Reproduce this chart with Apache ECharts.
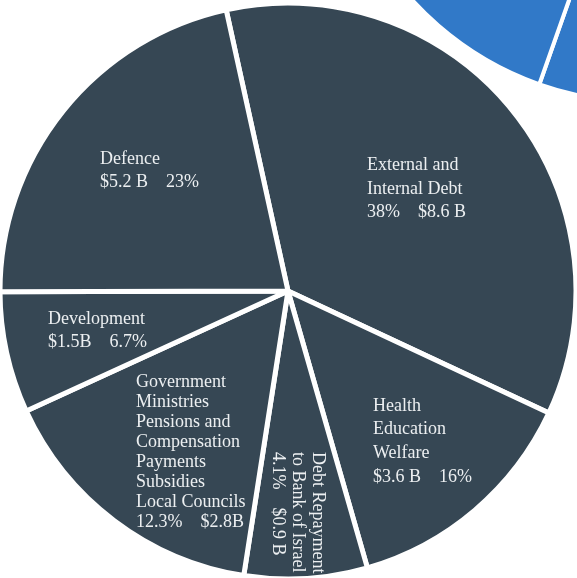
<!DOCTYPE html>
<html><head><meta charset="utf-8">
<script src="https://cdn.jsdelivr.net/npm/echarts@6/dist/echarts.min.js"></script>
<style>html,body{margin:0;padding:0;background:#fff}#c{width:577px;height:578px}</style>
</head><body><div id="c"></div>
<script>
// Main (expenditure) pie, clockwise from the top
const categories = ['External and Internal Debt','Health Education Welfare','Debt Repayment to Bank of Israel','Government Ministries Pensions and Compensation Payments Subsidies Local Councils','Development','Defence'];
const sliceValues = [35.4, 13.6, 6.9, 15.7, 6.8, 21.6];
const labelTexts = [
  'External and\nInternal Debt\n38%    $8.6 B',
  'Health\nEducation\nWelfare\n$3.6 B    16%',
  'Debt Repayment\nto Bank of Israel\n4.1%    $0.9 B',
  'Government\nMinistries\nPensions and\nCompensation\nPayments\nSubsidies\nLocal Councils\n12.3%    $2.8B',
  'Development\n$1.5B    6.7%',
  'Defence\n$5.2 B    23%'
];
// Second (partly visible) pie
const outerCategories = ['Part A','Part B'];
const outerValues = [30, 70];

// layout / style (not data)
const labelPos = [
  {x:367, y:154, lh:23.5, rot:0},
  {x:373, y:394, lh:23.7, rot:0},
  {x:328, y:452, lh:20, rot:-90},
  {x:136, y:372, lh:20, rot:0},
  {x:48,  y:308, lh:23, rot:0},
  {x:100, y:148, lh:23, rot:0}
];
const dark = '#364754';
const blue = '#3179c8';
const serif = '"Liberation Serif", "Times New Roman", "DejaVu Serif", serif';

const chart = echarts.init(document.getElementById('c'), null, {renderer:'canvas'});
chart.setOption({
  animation: false,
  textStyle: {fontFamily: serif},
  series: [
    {
      type: 'pie',
      center: [643, -210],
      radius: 312,
      startAngle: 250.6 + 0.3 * 360,
      clockwise: true,
      silent: true,
      label: {show: false},
      labelLine: {show: false},
      itemStyle: {color: blue, borderColor: '#fff', borderWidth: 4},
      data: outerCategories.map((n, i) => ({name: n, value: outerValues[i]}))
    },
    {
      type: 'pie',
      center: [288, 291],
      radius: 288,
      startAngle: 102.4,
      clockwise: true,
      silent: true,
      avoidLabelOverlap: false,
      itemStyle: {color: dark, borderColor: '#fff', borderWidth: 5},
      label: {
        show: true,
        position: 'inside',
        color: '#eceff1',
        fontFamily: serif,
        fontSize: 18,
        align: 'left'
      },
      labelLine: {show: false},
      labelLayout: function (params) {
        const p = labelPos[params.dataIndex];
        return {x: p.x, y: p.y, align: 'left', verticalAlign: 'top', rotate: p.rot};
      },
      data: categories.map((n, i) => ({
        name: n,
        value: sliceValues[i],
        label: {formatter: labelTexts[i], lineHeight: labelPos[i].lh, rotate: labelPos[i].rot, fontFamily: serif}
      }))
    }
  ]
});
</script>
</body></html>
